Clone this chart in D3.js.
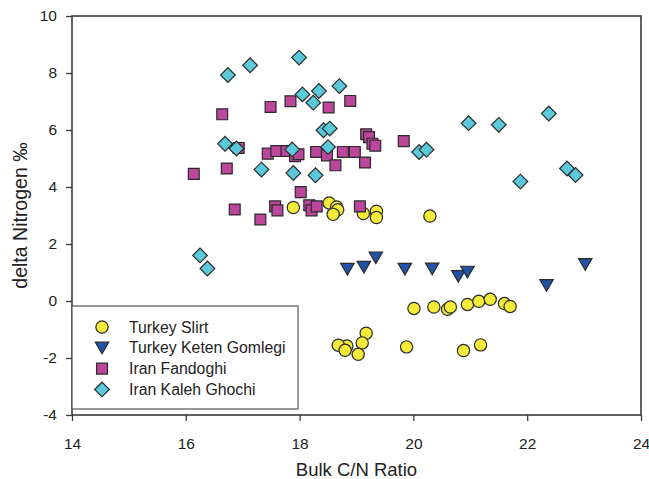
<!DOCTYPE html>
<html>
<head>
<meta charset="utf-8">
<script src="https://cdn.jsdelivr.net/npm/d3@7"></script>
<style>
  body { margin: 0; background: #fff; }
  text { font-family: "Liberation Sans", Arial, sans-serif; }
</style>
</head>
<body>
<svg id="chart" width="649" height="479"></svg>
<script>
const xTicks = [14, 16, 18, 20, 22, 24];
const yTicks = [-4, -2, 0, 2, 4, 6, 8, 10];

const slirtX = [17.89, 18.52, 18.65, 18.67, 18.59, 19.12, 19.35, 19.35, 20.29,
  20.01, 20.36, 20.60, 20.65, 20.95, 21.15, 21.35, 21.60, 21.70,
  19.88, 20.88, 21.18, 19.17, 19.10, 19.03, 18.83, 18.68, 18.80];
const slirtY = [3.28, 3.44, 3.30, 3.20, 3.04, 3.07, 3.15, 2.93, 2.98,
  -0.26, -0.21, -0.29, -0.21, -0.12, -0.01, 0.06, -0.09, -0.19,
  -1.61, -1.74, -1.54, -1.13, -1.47, -1.87, -1.58, -1.55, -1.73];

const ketenX = [18.84, 19.13, 19.34, 19.85, 20.33, 20.79, 20.95, 22.34, 23.02];
const ketenY = [1.12, 1.19, 1.52, 1.12, 1.13, 0.87, 1.02, 0.55, 1.29];

const fandoghiX = [16.14, 16.64, 16.72, 16.93, 17.49, 17.84, 18.51, 18.89,
  17.44, 17.59, 17.77, 17.92, 17.98, 18.29, 18.48, 18.76, 18.97, 18.63, 19.15,
  19.17, 19.22, 19.28, 19.33, 19.83, 18.02,
  16.86, 17.31, 17.57, 17.61, 18.17, 18.21, 18.30, 19.06];
const fandoghiY = [4.46, 6.55, 4.65, 5.37, 6.81, 7.01, 6.79, 7.02,
  5.17, 5.26, 5.26, 5.08, 5.15, 5.23, 5.11, 5.23, 5.23, 4.76, 4.86,
  5.85, 5.75, 5.52, 5.45, 5.61, 3.82,
  3.21, 2.86, 3.32, 3.18, 3.36, 3.18, 3.32, 3.32];

const kalehX = [16.74, 17.13, 17.99, 18.05, 18.34, 18.24, 18.70, 18.42, 18.53,
  16.69, 16.89, 17.87, 18.50, 17.33, 17.89, 18.28,
  20.97, 21.50, 22.38, 20.10, 20.23, 21.88, 22.70, 22.85, 16.25, 16.38];
const kalehY = [7.93, 8.27, 8.54, 7.25, 7.37, 6.96, 7.54, 5.99, 6.05,
  5.52, 5.35, 5.32, 5.40, 4.61, 4.49, 4.41,
  6.24, 6.18, 6.58, 5.23, 5.31, 4.19, 4.65, 4.42, 1.60, 1.14];

const series = [
  {name: 'Turkey Slirt', xs: slirtX, ys: slirtY, symbol: d3.symbolCircle, size: 118, fill: '#f5ec3a', rotate: 0, dy: 0},
  {name: 'Turkey Keten Gomlegi', xs: ketenX, ys: ketenY, symbol: d3.symbolTriangle, size: 78, fill: '#2153a6', rotate: 180, dy: -1.8},
  {name: 'Iran Fandoghi', xs: fandoghiX, ys: fandoghiY, symbol: d3.symbolSquare, size: 118, fill: '#bb469c', rotate: 0, dy: 0},
  {name: 'Iran Kaleh Ghochi', xs: kalehX, ys: kalehY, symbol: d3.symbolSquare, size: 108, fill: '#5cc9da', rotate: 45, dy: 0}
];

const margin = {top: 16, right: 8, bottom: 64, left: 72};
const width = 649, height = 479;
const svg = d3.select('#chart');

const x = d3.scaleLinear().domain([14, 24]).range([margin.left, width - margin.right]);
const y = d3.scaleLinear().domain([-4, 10]).range([height - margin.bottom, margin.top]);

const axisColor = '#3a3a3a';
const font = '"Liberation Sans", Arial, sans-serif';

// frame
svg.append('rect')
  .attr('x', x(14)).attr('y', y(10))
  .attr('width', x(24) - x(14)).attr('height', y(-4) - y(10))
  .attr('fill', 'none').attr('stroke', axisColor).attr('stroke-width', 1.6);

svg.append('g')
  .attr('transform', `translate(0,${y(-4)})`)
  .call(d3.axisBottom(x).tickValues(xTicks).tickSize(6).tickPadding(17).tickFormat(d => String(d)))
  .call(g => g.select('.domain').remove())
  .call(g => g.selectAll('.tick line').attr('stroke', axisColor).attr('stroke-width', 1.3))
  .call(g => g.selectAll('.tick text').attr('font-size', 15.5).attr('fill', '#222').attr('font-family', font));

// plain hyphen for negatives, like the original
svg.append('g')
  .attr('transform', `translate(${x(14)},0)`)
  .call(d3.axisLeft(y).tickValues(yTicks).tickSize(6).tickPadding(9).tickFormat(d => String(d)))
  .call(g => g.select('.domain').remove())
  .call(g => g.selectAll('.tick line').attr('stroke', axisColor).attr('stroke-width', 1.3))
  .call(g => g.selectAll('.tick text').attr('font-size', 15.5).attr('fill', '#222').attr('font-family', font));

svg.append('text')
  .attr('x', (x(14) + x(24)) / 2).attr('y', 476)
  .attr('text-anchor', 'middle').attr('font-size', 18.5).attr('fill', '#222')
  .text('Bulk C/N Ratio');

svg.append('text')
  .attr('transform', `translate(27,${(y(10) + y(-4)) / 2}) rotate(-90)`)
  .attr('text-anchor', 'middle').attr('font-size', 19.5).attr('fill', '#222')
  .text('delta Nitrogen ‰');

function place(s, px, py) {
  return `translate(${px},${py + s.dy})` + (s.rotate ? ` rotate(${s.rotate})` : '');
}

// points
series.forEach(s => {
  const sym = d3.symbol().type(s.symbol).size(s.size);
  svg.append('g')
    .selectAll('path')
    .data(s.xs.map((v, i) => [v, s.ys[i]]))
    .join('path')
    .attr('d', sym)
    .attr('transform', d => place(s, x(d[0]), y(d[1])))
    .attr('fill', s.fill)
    .attr('stroke', '#2a2a2a')
    .attr('stroke-width', 1.2);
});

// legend
const legend = svg.append('g');
legend.append('rect')
  .attr('x', x(14)).attr('y', 306)
  .attr('width', 226).attr('height', 103)
  .attr('fill', '#fff').attr('stroke', '#555').attr('stroke-width', 1.2);

series.forEach((s, i) => {
  const ly = 327 + i * 20.8;
  legend.append('path')
    .attr('d', d3.symbol().type(s.symbol).size(s.size)())
    .attr('transform', place(s, 102, ly))
    .attr('fill', s.fill).attr('stroke', '#2a2a2a').attr('stroke-width', 1.2);
  legend.append('text')
    .attr('x', 129).attr('y', ly).attr('dy', '0.36em')
    .attr('font-size', 15.8).attr('fill', '#222')
    .text(s.name);
});
</script>
</body>
</html>
